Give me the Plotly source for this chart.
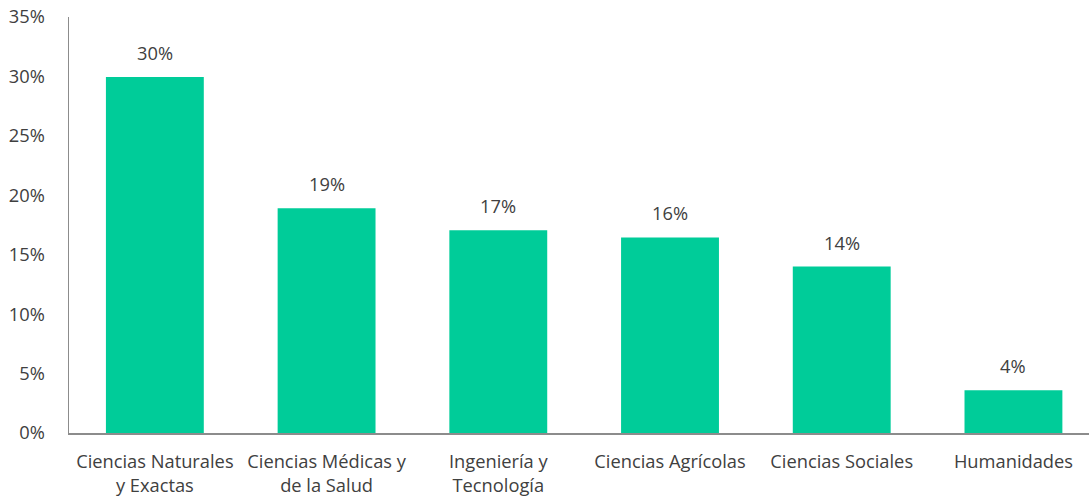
import plotly.graph_objects as go

categories = ["Ciencias Naturales<br>y Exactas", "Ciencias Médicas y<br>de la Salud",
              "Ingeniería y<br>Tecnología", "Ciencias Agrícolas", "Ciencias Sociales", "Humanidades"]
values = [29.95, 18.9, 17.05, 16.45, 14.0, 3.6]
labels = ["30%", "19%", "17%", "16%", "14%", "4%"]
yticks = [0, 5, 10, 15, 20, 25, 30, 35]
yticklabels = ["0%", "5%", "10%", "15%", "20%", "25%", "30%", "35%"]

FONT = "Open Sans"
TXT = "#404040"
FS = 18.3

fig = go.Figure()
fig.add_trace(go.Bar(x=list(range(len(categories))), y=values, marker_color="#00CC99",
                     marker_line_width=0, hoverinfo="skip"))

for i, (v, t) in enumerate(zip(values, labels)):
    fig.add_annotation(x=i, y=v, text=t, showarrow=False, yanchor="bottom", yshift=10,
                       font=dict(family=FONT, size=FS, color=TXT))

fig.update_layout(
    width=1089, height=497,
    margin=dict(l=69, r=0, t=17, b=63.5),
    paper_bgcolor="white", plot_bgcolor="white",
    bargap=0.43, showlegend=False,
    font=dict(family=FONT, size=FS, color=TXT),
)
fig.update_xaxes(tickmode="array", tickvals=list(range(len(categories))), ticktext=categories,
                 range=[-0.5, 5.44], showline=True, linecolor="#8c8c8c", linewidth=1.5,
                 showgrid=False, ticks="", automargin=False, ticklabelstandoff=12,
                 tickfont=dict(family=FONT, size=FS, color=TXT))
fig.update_yaxes(tickmode="array", tickvals=yticks, ticktext=yticklabels, range=[0, 35],
                 showline=True, linecolor="#8c8c8c", linewidth=1.5, showgrid=False,
                 zeroline=False, ticks="", ticklabelstandoff=19, automargin=False,
                 tickfont=dict(family=FONT, size=FS, color=TXT))

# remove the browser's default 8px body margin so the figure fills the window exactly
fig.write_html("out.html", config={"displayModeBar": False, "staticPlot": True},
               post_script="document.body.style.margin='0';")
